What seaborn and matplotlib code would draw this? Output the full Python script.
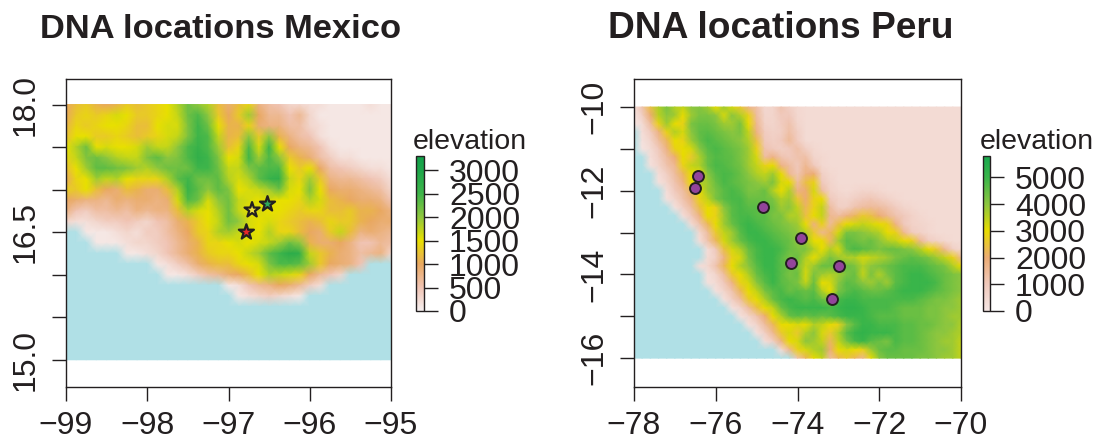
import numpy as np
import matplotlib
matplotlib.use("Agg")
import matplotlib.pyplot as plt
from matplotlib.colors import LinearSegmentedColormap
import seaborn as sns

sns.set_style("white")
plt.rcParams["font.family"] = ["Liberation Sans", "DejaVu Sans"]

S = -1  # sea, sits below the land part of the colour scale

# elevation in hundreds of metres, rows north to south, 0.125 degree nodes
mexico_lon = [-99, -95]
mexico_lat = [18, 15]
mexico_elev = [
    [10,12,13,11,10,11,13,12,13,14,15,18,22,20,18,12,9,12,14,8,6,5,3,3,2,2,1,1,1,1,2,1,1],
    [10,13,14,13,14,16,15,13,13,14,15,17,22,24,20,13,10,13,19,10,7,7,5,7,3,1,1,1,1,1,1,1,1],
    [11,14,13,14,15,15,14,12,12,15,16,16,21,25,22,15,11,11,14,9,8,8,6,6,3,2,1,1,1,1,1,1,1],
    [12,15,15,13,13,14,13,12,13,14,16,17,21,25,24,17,11,12,20,13,20,11,8,6,5,2,1,1,1,1,1,1,1],
    [15,18,22,15,16,15,15,16,19,17,17,20,24,26,24,19,12,14,24,16,25,15,10,8,7,5,2,1,1,1,1,1,1],
    [14,17,21,22,20,18,17,17,21,23,20,21,24,27,25,21,15,16,25,19,24,20,13,11,9,6,4,2,2,1,1,1,1],
    [12,15,19,23,23,22,21,19,18,20,22,22,22,25,25,22,17,17,21,23,24,24,15,13,15,10,6,5,4,3,2,2,1],
    [10,14,15,19,17,18,15,14,14,14,18,23,25,22,22,23,18,16,18,23,26,27,17,14,19,13,8,7,7,6,5,4,2],
    [13,13,15,12,10,9,12,11,9,9,12,18,26,23,20,23,21,15,16,17,19,22,16,15,21,15,10,9,9,8,7,6,3],
    [10,9,8,8,7,9,8,9,9,8,9,16,24,22,16,20,22,17,16,15,16,15,15,14,18,16,12,11,10,9,9,8,5],
    [8,5,4,6,6,7,6,8,7,8,8,12,18,16,15,18,22,17,15,16,15,15,14,13,14,14,12,12,13,11,11,10,8],
    [3,2,2,3,4,4,5,4,3,5,6,9,11,13,15,17,22,20,16,15,16,14,13,12,11,12,14,13,13,11,10,9,9],
    [S,S,1,1,1,2,3,2,4,4,6,8,10,13,14,18,19,17,16,15,18,14,14,12,10,9,13,17,12,8,9,8,7],
    [S,S,S,1,1,1,2,3,3,4,5,7,9,11,14,14,15,16,15,16,17,19,22,20,11,9,9,10,8,5,5,7,6],
    [S,S,S,S,S,S,1,1,2,3,5,7,9,11,13,14,14,15,17,19,23,25,28,27,17,13,11,9,8,6,7,8,3],
    [S,S,S,S,S,S,S,S,S,1,2,4,6,9,11,12,12,14,15,16,21,24,24,23,19,13,10,9,8,5,S,S,S],
    [S,S,S,S,S,S,S,S,S,S,1,1,2,4,6,7,9,10,12,15,18,17,16,14,10,7,5,3,S,S,S,S,S],
    [S,S,S,S,S,S,S,S,S,S,S,S,S,S,S,S,1,2,5,7,8,10,9,7,4,2,S,S,S,S,S,S,S],
    [S,S,S,S,S,S,S,S,S,S,S,S,S,S,S,S,S,1,2,3,4,3,2,1,S,S,S,S,S,S,S,S,S],
    [S]*33, [S]*33, [S]*33, [S]*33, [S]*33, [S]*33,
]

# elevation in hundreds of metres, rows north to south, 0.2 degree nodes
peru_lon = [-78, -70]
peru_lat = [-10, -16]
peru_elev = [
    [2,12,24,36,42,36,34,40,41,38,30,38,32,26,17,13,5,6,12,8,5,4,4,4,4,4,4,4,4,4,4,4,4,4,4,4,4,4,4,4,4],
    [1,8,20,35,40,38,30,38,42,42,40,32,40,36,28,14,6,6,10,10,5,4,4,4,4,4,4,4,4,4,4,4,4,4,4,4,4,4,4,4,4],
    [1,4,14,28,38,30,28,42,44,44,42,38,38,42,30,16,7,6,9,12,6,4,4,4,4,4,4,4,4,4,4,4,4,4,4,4,4,4,4,4,4],
    [S,3,9,18,28,36,32,40,45,46,44,42,40,42,34,18,9,7,8,13,8,4,4,4,4,4,4,4,4,4,4,4,4,4,4,4,4,4,4,4,4],
    [S,2,6,14,22,30,28,38,44,48,46,44,42,40,36,24,10,8,10,15,9,4,4,4,4,4,4,4,4,4,4,4,4,4,4,4,4,4,4,4,4],
    [S,1,4,10,18,28,30,32,40,46,48,46,44,42,38,28,12,10,8,10,13,8,5,4,4,4,4,4,4,4,4,4,4,4,4,4,4,4,4,4,4],
    [S,S,3,8,14,20,30,26,36,44,47,46,45,42,38,32,14,18,12,10,12,13,6,5,4,4,4,4,4,4,4,4,4,4,4,4,4,4,4,4,4],
    [S,S,2,6,12,16,28,34,36,44,48,47,45,43,38,34,28,30,18,14,10,16,10,5,4,4,4,4,4,4,4,4,4,4,4,4,4,4,4,4,4],
    [S,S,S,3,8,14,22,30,30,40,46,48,47,44,40,36,34,38,30,16,11,18,20,8,5,4,4,4,4,4,4,4,4,4,4,4,4,4,4,4,4],
    [S,S,S,2,6,12,18,30,36,38,44,48,46,44,42,40,38,42,32,30,14,24,28,10,6,4,4,4,4,4,4,4,4,4,4,4,4,4,4,4,4],
    [S,S,S,S,3,10,14,22,30,38,42,46,48,46,42,42,44,36,30,36,18,20,32,14,7,5,4,5,6,6,5,4,4,4,4,4,4,4,4,4,4],
    [S,S,S,S,2,6,12,18,28,34,42,46,48,48,44,44,44,42,36,38,26,20,28,30,10,7,6,8,10,11,9,7,5,4,4,4,4,4,4,4,4],
    [S,S,S,S,S,2,8,14,24,30,28,40,46,48,46,46,44,44,38,40,34,22,28,34,14,8,8,12,14,15,14,12,9,6,5,4,4,4,4,4,4],
    [S,S,S,S,S,S,3,10,18,30,28,38,46,48,48,46,46,42,42,36,36,24,30,34,16,14,18,22,26,24,20,16,12,10,7,5,4,4,4,4,4],
    [S,S,S,S,S,S,S,4,12,22,30,38,44,48,50,48,46,44,42,40,38,30,18,28,15,24,30,32,34,32,30,28,18,10,7,6,5,4,4,4,4],
    [S,S,S,S,S,S,S,S,5,14,26,34,38,46,50,50,48,46,44,42,40,36,26,16,22,32,42,42,40,38,36,30,28,16,9,7,5,4,4,4,4],
    [S,S,S,S,S,S,S,S,3,12,22,32,38,44,48,50,50,48,46,44,40,38,30,30,22,38,46,44,42,44,40,36,34,30,28,16,9,7,5,4,4],
    [S,S,S,S,S,S,S,S,S,3,10,24,32,36,44,48,50,50,48,44,42,42,36,30,36,32,44,48,46,44,42,44,44,42,40,36,30,26,16,8,5],
    [S,S,S,S,S,S,S,S,S,4,8,18,28,32,42,48,50,50,46,42,44,36,30,36,42,38,36,36,32,34,36,38,42,44,46,44,42,38,34,28,16],
    [S,S,S,S,S,S,S,S,3,5,12,22,30,36,40,46,50,50,46,44,42,34,38,44,44,46,44,42,36,40,42,44,46,48,48,48,46,44,42,36,30],
    [S,S,S,S,S,S,S,S,S,2,6,14,26,30,36,44,48,50,46,42,44,32,42,38,36,38,42,44,34,42,36,42,46,48,50,50,48,46,44,42,40],
    [S,S,S,S,S,S,S,S,S,2,4,10,18,28,32,40,46,50,46,44,42,34,44,30,32,40,46,44,40,38,42,38,46,48,50,50,50,48,44,42,40],
    [S,S,S,S,S,S,S,S,S,S,2,6,12,22,30,34,42,46,48,44,46,44,46,36,30,42,46,48,46,44,44,46,48,50,50,50,48,46,44,42,40],
    [S,S,S,S,S,S,S,S,S,S,S,2,8,14,26,30,36,44,48,50,48,46,48,44,42,48,50,50,48,48,48,48,48,48,48,46,44,42,42,40,38],
    [S,S,S,S,S,S,S,S,S,S,S,S,2,6,14,24,30,34,44,48,50,50,50,50,48,50,52,52,50,48,48,48,46,44,44,44,42,42,40,40,38],
    [S,S,S,S,S,S,S,S,S,S,S,S,S,2,6,12,20,30,36,44,46,44,46,44,46,48,50,50,50,48,46,46,46,44,44,44,42,42,40,38,38],
    [S,S,S,S,S,S,S,S,S,S,S,S,S,S,2,6,14,22,30,30,32,30,36,34,30,28,40,46,50,50,48,48,48,46,46,44,44,42,40,40,36],
    [S,S,S,S,S,S,S,S,S,S,S,S,S,S,S,2,8,16,26,32,26,36,40,32,26,36,46,50,52,50,50,50,48,46,46,44,42,40,40,38,36],
    [S,S,S,S,S,S,S,S,S,S,S,S,S,S,S,S,3,8,18,30,32,40,38,34,22,34,42,48,50,46,44,42,48,46,46,44,42,40,38,38,34],
    [S,S,S,S,S,S,S,S,S,S,S,S,S,S,S,S,S,S,4,16,28,32,36,38,20,30,32,30,28,38,44,46,46,44,44,44,42,40,40,38,34],
    [S,S,S,S,S,S,S,S,S,S,S,S,S,S,S,S,S,S,S,S,12,22,30,34,14,22,26,22,16,30,40,44,44,44,44,42,42,40,38,38,34],
]

# sample locations
star_lon = [-96.78, -96.71, -96.52]
star_lat = [16.50, 16.76, 16.83]
star_colors = ["#e8262a", "#f0e040", "#2fa85a"]
dot_lon = [-76.44, -76.51, -74.85, -73.92, -74.15, -72.99, -73.16]
dot_lat = [-11.65, -11.94, -12.40, -13.12, -13.72, -13.79, -14.59]

mexico_levels = [0, 500, 1000, 1500, 2000, 2500, 3000, 3300]
mexico_colors = ["#f6f0f0", "#f0c4b4", "#e9a860", "#e8e000", "#8fc73e", "#3eb54a", "#1da64a", "#12a04a"]
peru_levels = [0, 1000, 2000, 3000, 4000, 5000, 5800]
peru_colors = ["#f5e6e4", "#f0c9bc", "#ecac74", "#e8dc00", "#8cc63f", "#39b54a", "#18a84e"]
sea_color = "#b0e0e6"
ink = "#231f20"

W, H = 1103, 444


def px_axes(fig, left, top, right, bottom):
    return fig.add_axes([left / W, 1 - bottom / H, (right - left) / W, (bottom - top) / H])


def make_cmap(levels, colors):
    span = levels[-1] + 100
    pos = [0.0, 99 / span] + [(v + 100) / span for v in levels]
    cmap = LinearSegmentedColormap.from_list("elev", list(zip(pos, [sea_color, sea_color] + colors)), N=1024)
    return cmap


def draw_panel(fig, box, cbox, grid, lons, lats, levels, colors, lat_lim, xticks, yticks, ylabels, cticks, title, title_x, title_size, legend_x):
    data = np.array(grid, dtype=float) * 100
    nrow, ncol = data.shape
    ax = px_axes(fig, *box)
    cax = px_axes(fig, *cbox)
    sns.heatmap(data, ax=ax, cbar_ax=cax, cmap=make_cmap(levels, colors), vmin=-100, vmax=levels[-1],
                xticklabels=False, yticklabels=False, shading="gouraud")

    def to_x(v):
        return (np.asarray(v, dtype=float) - lons[0]) / (lons[1] - lons[0]) * (ncol - 1)

    def to_y(v):
        return (np.asarray(v, dtype=float) - lats[0]) / (lats[1] - lats[0]) * (nrow - 1)

    ax.set_xlim(to_x(lons[0]), to_x(lons[1]))
    ax.set_ylim(to_y(lat_lim[0]), to_y(lat_lim[1]))
    ax.set_xticks(to_x(xticks))
    ax.set_xticklabels(["\u2212%d" % abs(v) for v in xticks], fontsize=23, color=ink)
    ax.set_yticks(to_y(yticks))
    ax.set_yticklabels(ylabels, fontsize=23, color=ink, rotation=90, va="center")
    ax.tick_params(axis="both", length=10, width=1, color=ink, left=True, bottom=True)
    ax.tick_params(axis="x", pad=7)
    ax.tick_params(axis="y", pad=8)
    for sp in ax.spines.values():
        sp.set_visible(True)
        sp.set_color(ink)
        sp.set_linewidth(1)

    cb = ax.collections[0].colorbar
    cb.set_ticks(cticks)
    cb.set_ticklabels([str(v) for v in cticks])
    cb.ax.set_ylim(0, levels[-1])
    cb.ax.tick_params(length=10, width=1, color=ink, labelsize=23, labelcolor=ink, pad=8, right=True)
    cb.outline.set_linewidth(1)
    cb.outline.set_edgecolor(ink)

    fig.text(title_x / W, 1 - 38 / H, title, fontsize=title_size, fontweight="bold", color=ink)
    fig.text(legend_x / W, 1 - 149 / H, "elevation", fontsize=20.5, color=ink)
    return ax, to_x, to_y


fig = plt.figure(figsize=(W / 100, H / 100), dpi=100)

ax1, x1, y1 = draw_panel(
    fig, (66, 79, 391, 387), (416, 156, 424, 311), mexico_elev, mexico_lon, mexico_lat,
    mexico_levels, mexico_colors, (14.68, 18.3),
    [-99, -98, -97, -96, -95],
    [18, 17.5, 17, 16.5, 16, 15.5, 15],
    ["18.0", "", "", "16.5", "", "", "15.0"],
    [0, 500, 1000, 1500, 2000, 2500, 3000],
    "DNA locations Mexico", 40, 24.8, 413,
)
ax1.scatter(x1(star_lon), y1(star_lat), marker="*", s=130, c=star_colors, edgecolors=ink, linewidths=1.6, zorder=5)

ax2, x2, y2 = draw_panel(
    fig, (634, 79, 961, 387), (983, 156, 990, 311), peru_elev, peru_lon, peru_lat,
    peru_levels, peru_colors, (-16.69, -9.33),
    [-78, -76, -74, -72, -70],
    [-10, -11, -12, -13, -14, -15, -16],
    ["\u221210", "", "\u221212", "", "\u221214", "", "\u221216"],
    [0, 1000, 2000, 3000, 4000, 5000],
    "DNA locations Peru", 608, 26.7, 980,
)
ax2.scatter(x2(dot_lon), y2(dot_lat), marker="o", s=62, c="#93449b", edgecolors=ink, linewidths=1.4, zorder=5)

plt.savefig("out.png", dpi=100)
plt.close()
